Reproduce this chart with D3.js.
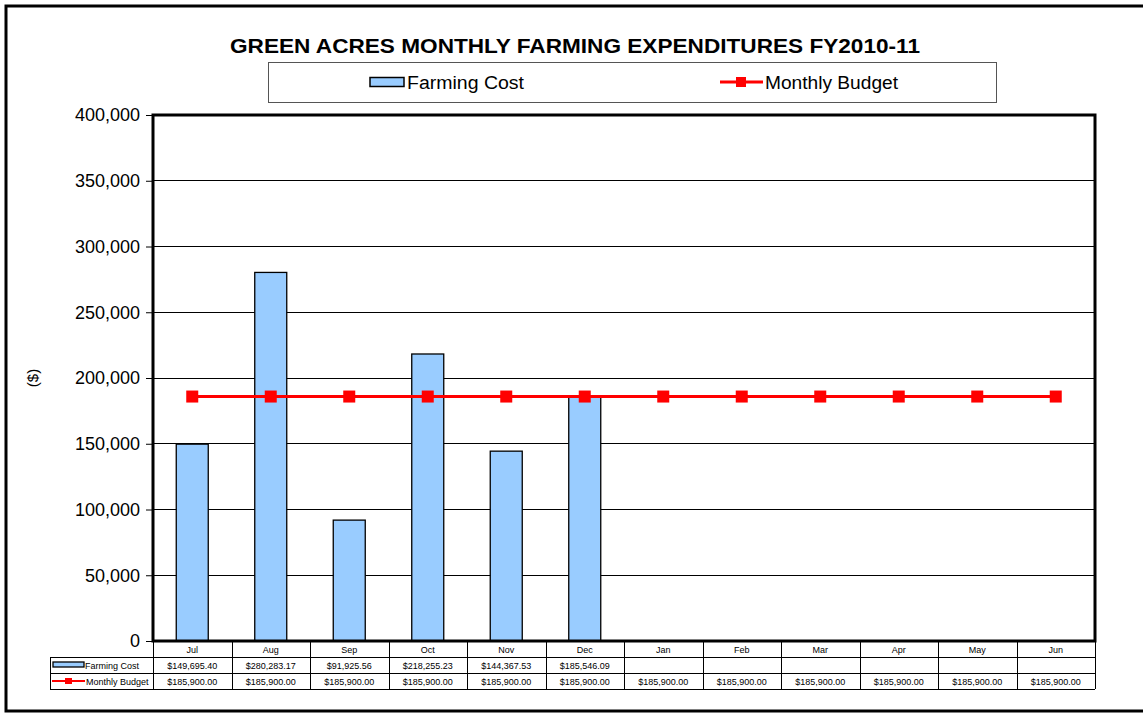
<!DOCTYPE html>
<html><head><meta charset="utf-8">
<script src="https://cdn.jsdelivr.net/npm/d3@7"></script>
<style>body{margin:0;background:#fff;} svg{display:block;} text{font-family:Arial,"Liberation Sans",sans-serif;}</style>
</head><body>
<svg id="c" width="1143" height="713"></svg>
<script>
const months = ["Jul","Aug","Sep","Oct","Nov","Dec","Jan","Feb","Mar","Apr","May","Jun"];
const farmingCost = [149695.40, 280283.17, 91925.56, 218255.23, 144367.53, 185546.09, null, null, null, null, null, null];
const monthlyBudget = [185900, 185900, 185900, 185900, 185900, 185900, 185900, 185900, 185900, 185900, 185900, 185900];
const yTicks = [0, 50000, 100000, 150000, 200000, 250000, 300000, 350000, 400000];
const seriesNames = ["Farming Cost", "Monthly Budget"];
const title = "GREEN ACRES MONTHLY FARMING EXPENDITURES FY2010-11";
const yLabel = "($)";

const svg = d3.select("#c");
const L = 153, R = 1095, T = 115, B = 641;
const x = d3.scaleBand().domain(months).range([L, R]).padding(0);
const y = d3.scaleLinear().domain([0, 400000]).range([B, T]);

// outer frame
svg.append("rect").attr("x", 6).attr("y", 6).attr("width", 1150).attr("height", 705)
  .attr("fill", "none").attr("stroke", "#000").attr("stroke-width", 3);

// title
svg.append("text").attr("x", 575).attr("y", 53).attr("text-anchor", "middle")
  .attr("font-size", 18).attr("font-weight", "bold")
  .attr("textLength", 690).attr("lengthAdjust", "spacingAndGlyphs")
  .style("font-size", "21px").text(title);

// legend
const lg = svg.append("g");
lg.append("rect").attr("x", 268.5).attr("y", 62.5).attr("width", 728).attr("height", 40)
  .attr("fill", "#fff").attr("stroke", "#555").attr("stroke-width", 1);
lg.append("rect").attr("x", 370).attr("y", 77.5).attr("width", 34).attr("height", 9)
  .attr("fill", "#99CCFF").attr("stroke", "#000").attr("stroke-width", 1.5);
lg.append("text").attr("x", 407).attr("y", 89).attr("font-size", 18)
  .attr("textLength", 117).attr("lengthAdjust", "spacingAndGlyphs").text(seriesNames[0]);
lg.append("line").attr("x1", 720).attr("x2", 763).attr("y1", 82).attr("y2", 82)
  .attr("stroke", "#FF0000").attr("stroke-width", 3);
lg.append("rect").attr("x", 736).attr("y", 77).attr("width", 10).attr("height", 10).attr("fill", "#FF0000");
lg.append("text").attr("x", 765).attr("y", 89).attr("font-size", 18)
  .attr("textLength", 133).attr("lengthAdjust", "spacingAndGlyphs").text(seriesNames[1]);

// gridlines
svg.append("g").selectAll("line").data(yTicks.filter(d => d > 0 && d < 400000)).join("line")
  .attr("x1", L).attr("x2", R).attr("y1", d => y(d)).attr("y2", d => y(d))
  .attr("stroke", "#000").attr("stroke-width", 1).attr("shape-rendering", "crispEdges");

// y axis
const yAxis = d3.axisLeft(y).tickValues(yTicks).tickSize(7).tickFormat(d3.format(","));
const ya = svg.append("g").attr("transform", `translate(${L},0)`).call(yAxis);
ya.select(".domain").remove();
ya.selectAll("text").attr("font-size", 18).attr("fill", "#000").attr("x", -13)
  .style("font-family", "Arial, 'Liberation Sans', sans-serif");
ya.selectAll("line").attr("stroke", "#000");

svg.append("text").attr("transform", `translate(38,${(T + B) / 2}) rotate(-90)`)
  .attr("text-anchor", "middle").attr("font-size", 15).text(yLabel);

// bars
const bw = 32;
svg.append("g").selectAll("rect").data(months.map((m, i) => ({m, v: farmingCost[i]})).filter(d => d.v != null))
  .join("rect")
  .attr("x", d => x(d.m) + x.bandwidth() / 2 - bw / 2).attr("width", bw)
  .attr("y", d => y(d.v)).attr("height", d => y(0) - y(d.v))
  .attr("fill", "#99CCFF").attr("stroke", "#000").attr("stroke-width", 1.3);

// budget line
const line = d3.line().x((d, i) => x(months[i]) + x.bandwidth() / 2).y(d => y(d));
svg.append("path").datum(monthlyBudget).attr("d", line).attr("fill", "none")
  .attr("stroke", "#FF0000").attr("stroke-width", 3);
svg.append("g").selectAll("rect").data(monthlyBudget).join("rect")
  .attr("x", (d, i) => x(months[i]) + x.bandwidth() / 2 - 6).attr("y", d => y(d) - 6)
  .attr("width", 12).attr("height", 12).attr("fill", "#FF0000");

// plot border
svg.append("rect").attr("x", L).attr("y", T).attr("width", R - L).attr("height", B - T)
  .attr("fill", "none").attr("stroke", "#000").attr("stroke-width", 3);

// data table
const rowH = 16, tL = 50;
const tg = svg.append("g");
const r0 = B, r1 = B + rowH, r2 = B + 2 * rowH, r3 = B + 3 * rowH;
const fmt = d3.format("$,.2f");
[[L, r1], [tL, r1], [tL, r2], [tL, r3]].forEach(([x0, yy]) => {
  tg.append("line").attr("x1", x0).attr("x2", R).attr("y1", yy + 0.5).attr("y2", yy + 0.5)
    .attr("stroke", "#000").attr("stroke-width", 1);
});
tg.append("line").attr("x1", tL + 0.5).attr("x2", tL + 0.5).attr("y1", r1).attr("y2", r3).attr("stroke", "#000");
months.forEach((m, i) => {
  const xx = Math.round(x(m)) + 0.5;
  tg.append("line").attr("x1", xx).attr("x2", xx).attr("y1", r0).attr("y2", r3).attr("stroke", "#000");
});
tg.append("line").attr("x1", R + 0.5).attr("x2", R + 0.5).attr("y1", r0).attr("y2", r3).attr("stroke", "#000");
tg.selectAll(".mh").data(months).join("text").attr("class", "mh")
  .attr("x", d => x(d) + x.bandwidth() / 2).attr("y", r0 + 12).attr("text-anchor", "middle")
  .attr("font-size", 9).text(d => d);
tg.selectAll(".fc").data(months.map((m, i) => ({m, v: farmingCost[i]})).filter(d => d.v != null)).join("text").attr("class", "fc")
  .attr("x", d => x(d.m) + x.bandwidth() / 2).attr("y", r1 + 12).attr("text-anchor", "middle")
  .attr("font-size", 9).text(d => fmt(d.v));
tg.selectAll(".mb").data(months.map((m, i) => ({m, v: monthlyBudget[i]}))).join("text").attr("class", "mb")
  .attr("x", d => x(d.m) + x.bandwidth() / 2).attr("y", r2 + 12).attr("text-anchor", "middle")
  .attr("font-size", 9).text(d => fmt(d.v));
tg.append("rect").attr("x", 53).attr("y", r1 + 5).attr("width", 31).attr("height", 5)
  .attr("fill", "#99CCFF").attr("stroke", "#000").attr("stroke-width", 1.3);
tg.append("text").attr("x", 85).attr("y", r1 + 12).attr("font-size", 9).text(seriesNames[0]);
tg.append("line").attr("x1", 52).attr("x2", 85).attr("y1", r2 + 8).attr("y2", r2 + 8)
  .attr("stroke", "#FF0000").attr("stroke-width", 2);
tg.append("rect").attr("x", 65).attr("y", r2 + 5).attr("width", 7).attr("height", 6).attr("fill", "#FF0000");
tg.append("text").attr("x", 86).attr("y", r2 + 12).attr("font-size", 9).text(seriesNames[1]);
</script>
</body></html>
